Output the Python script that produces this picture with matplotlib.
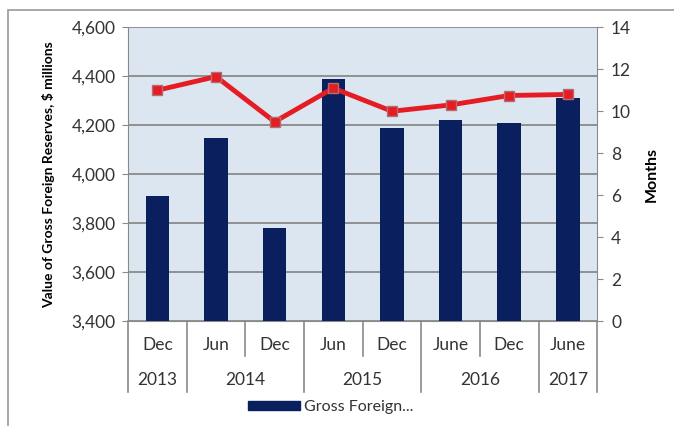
import numpy as np
import matplotlib.pyplot as plt
from matplotlib.patches import Rectangle
from matplotlib.lines import Line2D
import matplotlib.transforms as mtransforms

plt.rcParams['font.family'] = ['Lato', 'DejaVu Sans']

# period labels (two-level axis)
months = ['Dec', 'Jun', 'Dec', 'Jun', 'Dec', 'June', 'Dec', 'June']
years = ['2013', '2014', '2015', '2016', '2017']
year_spans = [1, 2, 2, 2, 1]

# gross foreign reserves, $ millions
reserves = [3910, 4148, 3780, 4388, 4188, 4220, 4208, 4310]
# import cover, months
import_cover = [11.0, 11.65, 9.5, 11.1, 10.0, 10.3, 10.75, 10.8]

navy = '#0a1f5e'
red = '#e51c23'
grid_c = '#8a8a8a'

fig = plt.figure(figsize=(6.74, 4.26), dpi=100)
ax = fig.add_axes([0.19, 0.246, 0.696, 0.69])
ax2 = ax.twinx()

x = np.arange(len(months))
ax.set_facecolor('#dce6f1')
ax.bar(x, reserves, width=0.4, color=navy, zorder=3)
ax.set_xlim(-0.5, len(months) - 0.5)
ax.set_ylim(3400, 4600)
ax.set_yticks(np.arange(3400, 4601, 200))
ax.set_yticklabels([f'{v:,}' for v in range(3400, 4601, 200)], fontsize=12.5, color='#333333')
ax.yaxis.grid(True, color=grid_c, linewidth=1.3, zorder=0)
ax.set_axisbelow(True)
ax.set_xticks([])
ax.tick_params(axis='y', length=4, color=grid_c, pad=5)
for s in ['top', 'right']:
    ax.spines[s].set_visible(False)
for s in ['left', 'bottom']:
    ax.spines[s].set_color(grid_c)
ax.set_ylabel('Value of Gross Foreign Reserves, $ millions', fontsize=10,
              fontweight='bold', labelpad=12)

ax2.plot(x, import_cover, color=red, linewidth=3.5, marker='s', markersize=7,
         markerfacecolor=red, markeredgecolor='#b07070', markeredgewidth=1, zorder=4)
ax2.set_ylim(0, 14)
ax2.set_yticks(range(0, 15, 2))
ax2.tick_params(axis='y', labelsize=12.5, length=4, color=grid_c, labelcolor='#333333', pad=6)
for s in ['top', 'left', 'bottom']:
    ax2.spines[s].set_visible(False)
ax2.spines['right'].set_color(grid_c)
ax2.set_ylabel('Months', fontsize=11.5, fontweight='bold', labelpad=10)

# two-level category axis drawn below the plot
trans = mtransforms.blended_transform_factory(ax.transData, fig.transFigure)
y_top = 1 - 321 / 426
y_mid = 1 - 356 / 426
y_bot = 1 - 392 / 426
for i, m in enumerate(months):
    ax.text(i, 1 - 345 / 426, m, transform=trans, ha='center', va='center',
            fontsize=12.5, color='#333333')
bounds = np.cumsum([0] + year_spans) - 0.5
for b0, b1, yr in zip(bounds[:-1], bounds[1:], years):
    ax.text((b0 + b1) / 2, 1 - 380 / 426, yr, transform=trans, ha='center',
            va='center', fontsize=12.5, color='#333333')
for b in bounds:
    fig.add_artist(Line2D([b, b], [y_top, y_bot], transform=trans, color=grid_c, lw=1.2))
for b in np.arange(-0.5, len(months)):
    if b not in bounds:
        fig.add_artist(Line2D([b, b], [y_top, y_mid], transform=trans, color=grid_c, lw=1.2))

# legend
leg_h = [Rectangle((0, 0), 1, 1, color=navy)]
fig.legend(leg_h, ['Gross Foreign...'], loc='center', bbox_to_anchor=(0.49, 1 - 407 / 426),
           frameon=False, fontsize=11.5, handlelength=3.3, handleheight=0.5,
           handletextpad=0.2, labelcolor='#333333')

# outer chart border
fig.add_artist(Rectangle((8 / 674, -0.1), 1.1, 1 - 10 / 426 + 0.1, transform=fig.transFigure,
                         fill=False, edgecolor='#9a9a9a', linewidth=1.2))

fig.savefig('out.png', dpi=100)
